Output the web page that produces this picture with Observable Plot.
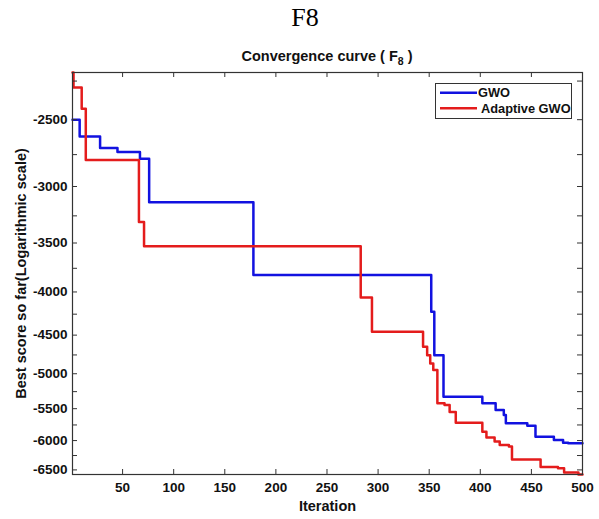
<!DOCTYPE html>
<html>
<head>
<meta charset="utf-8">
<script src="https://cdn.jsdelivr.net/npm/d3@7"></script>
<script src="https://cdn.jsdelivr.net/npm/@observablehq/plot@0.6"></script>
<style>
  html, body { margin: 0; padding: 0; background: #fff; }
  #figure { width: 599px; font-family: "Liberation Sans", Arial, sans-serif; }
  #header { position: relative; height: 66px; }
  #fig-title { position: absolute; left: 0; top: 3px; width: 610px; text-align: center;
    font-family: "Liberation Serif", "Times New Roman", serif; font-size: 26px; color: #000; }
  #plot-title { position: absolute; left: 72px; width: 510px; top: 48px; text-align: center;
    font-weight: bold; font-size: 14.5px; color: #111; line-height: 17px; }
  #plot-title sub { font-size: 10.5px; vertical-align: -4px; line-height: 0; }
  svg { display: block; }
</style>
</head>
<body>
<div id="figure">
  <div id="header">
    <div id="fig-title">F8</div>
    <div id="plot-title">Convergence curve ( F<sub>8</sub> )</div>
  </div>
  <div id="chart"></div>
</div>
<script>
// Best score so far per iteration, listed at the iterations where it improves
const gwoIteration = [1, 8, 28, 45, 67, 76, 178, 352, 355, 364, 402, 415, 423, 425, 446, 454, 472, 481, 486, 500];
const gwoScore = [-2500, -2617, -2700, -2731, -2781, -3131, -3818, -4223, -4753, -5324, -5420, -5521, -5597, -5724, -5762, -5937, -5990, -6034, -6043, -6043];

const agwoIteration = [1, 2, 10, 14, 66, 71, 283, 294, 344, 348, 351, 354, 358, 365, 370, 376, 402, 406, 414, 419, 428, 431, 459, 476, 482, 496, 500];
const agwoScore = [-2198, -2290, -2426, -2790, -3304, -3531, -4062, -4460, -4645, -4753, -4861, -4950, -5420, -5445, -5550, -5714, -5856, -5950, -6015, -6073, -6098, -6318, -6448, -6471, -6545, -6582, -6582];

const seriesNames = ["GWO", "Adaptive GWO"];
const seriesColors = ["#1212e0", "#e41c1c"];

const xTicks = [50, 100, 150, 200, 250, 300, 350, 400, 450, 500];
const yTicks = [-2500, -3000, -3500, -4000, -4500, -5000, -5500, -6000, -6500];
const yMinorTicks = [-2250, -2750, -3250, -3750, -4250, -4750, -5250, -5750, -6250];

const rows = [
  ...gwoIteration.map((it, i) => ({series: "GWO", iteration: it, score: gwoScore[i]})),
  ...agwoIteration.map((it, i) => ({series: "Adaptive GWO", iteration: it, score: agwoScore[i]}))
];

const W = 599, H = 453, mT = 6, mB = 45, mL = 72, mR = 17;
const plotW = W - mL - mR, plotH = H - mT - mB;
const TICK = 5;
const axisColor = "#333";
const allYTicks = [...yTicks, ...yMinorTicks];

const chart = Plot.plot({
  width: W, height: H,
  marginTop: mT, marginBottom: mB, marginLeft: mL, marginRight: mR,
  style: {fontFamily: "'Liberation Sans', Arial, sans-serif", fontSize: "13.5px", fontWeight: "bold", color: "#111", background: "#fff"},
  x: {domain: [1, 500]},
  y: {type: "log", domain: d3.extent(rows, d => d.score)},
  color: {domain: seriesNames, range: seriesColors},
  marks: [
    Plot.line(rows, {x: "iteration", y: "score", z: "series", stroke: "series", curve: "step-after", strokeWidth: 2.5}),
    // inward tick marks on all four sides
    Plot.tickY(allYTicks, {y: d => d, insetRight: plotW - TICK, stroke: axisColor}),
    Plot.tickY(allYTicks, {y: d => d, insetLeft: plotW - TICK, stroke: axisColor}),
    Plot.tickX(xTicks, {x: d => d, insetTop: plotH - TICK, stroke: axisColor}),
    Plot.tickX(xTicks, {x: d => d, insetBottom: plotH - TICK, stroke: axisColor}),
    Plot.frame({stroke: axisColor, strokeWidth: 1.2}),
    Plot.axisX({ticks: xTicks, tickSize: 0, tickPadding: 8, label: null}),
    Plot.axisY({ticks: yTicks, tickSize: 0, tickPadding: 5, tickFormat: d => String(d), label: null}),
    Plot.text(["Iteration"], {text: d => d, frameAnchor: "bottom", dy: 36, fontSize: 14.5, fontWeight: "bold", fill: "#111"}),
    Plot.text(["Best score so far(Logarithmic scale)"], {text: d => d, frameAnchor: "left", textAnchor: "middle", rotate: -90, dx: -51, fontSize: 14.5, fontWeight: "bold", fill: "#111"})
  ]
});

// legend box in the upper right corner
const svg = d3.select(chart);
const lg = svg.append("g").attr("font-family", "'Liberation Sans', Arial, sans-serif")
  .attr("font-weight", "bold").attr("font-size", 12.8).attr("fill", "#111")
  .attr("text-anchor", "start");
lg.append("rect").attr("x", 435.5).attr("y", 17.5).attr("width", 136).attr("height", 35)
  .attr("fill", "#fff").attr("stroke", axisColor).attr("stroke-width", 1);
seriesNames.forEach((name, i) => {
  const cy = 26.7 + i * 15.6;
  lg.append("line").attr("x1", 440).attr("x2", 477).attr("y1", cy).attr("y2", cy)
    .attr("stroke", seriesColors[i]).attr("stroke-width", 2.5);
  lg.append("text").attr("x", 478 + i * 3).attr("y", cy).attr("dy", "0.36em")
    .attr("text-anchor", "start").text(name);
});

document.getElementById("chart").append(chart);
</script>
</body>
</html>
